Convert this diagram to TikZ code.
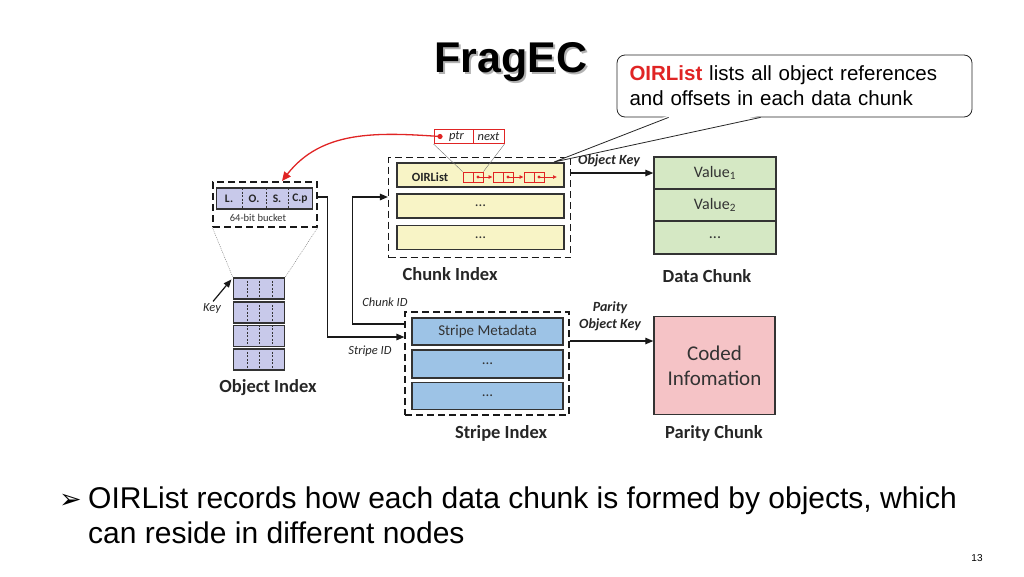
\documentclass[tikz,border=0pt]{standalone}
\usepackage{fontspec}
\setmainfont{Liberation Sans}
\newfontfamily\calib{Carlito}
\newfontfamily\djv{DejaVu Sans}
\usetikzlibrary{arrows.meta,calc}
\definecolor{rowyellow}{HTML}{F8F4C6}
\definecolor{rowgreen}{HTML}{D5E8C4}
\definecolor{rowpurple}{HTML}{C8C9EA}
\definecolor{rowblue}{HTML}{9DC3E6}
\definecolor{rowpink}{HTML}{F5C3C6}
\definecolor{rowborder}{HTML}{333333}
\definecolor{redline}{HTML}{E02424}
\begin{document}
\begin{tikzpicture}[x=1pt,y=-1pt,
  cellrow/.style={draw=rowborder, line width=1.4pt, inner sep=0pt, text=black!80, font=\calib\fontsize{15}{17}\selectfont},
  yelrow/.style={cellrow, fill=rowyellow, minimum width=167pt, minimum height=24pt},
  greenrow/.style={cellrow, fill=rowgreen, minimum width=122pt, font=\calib\fontsize{16}{18}\selectfont},
  purprow/.style={cellrow, fill=rowpurple, line width=1.2pt},
  bluerow/.style={cellrow, fill=rowblue, minimum width=151pt},
  dashbox/.style={draw=black!90, dash pattern=on 7pt off 4pt, line width=1.2pt, inner sep=0pt},
  lbl/.style={font=\calib\bfseries\fontsize{18.5}{20}\selectfont, text=black!85},
  ital/.style={font=\calib\itshape\fontsize{12.5}{14}\selectfont, text=black!85},
  bital/.style={font=\calib\bfseries\itshape\fontsize{14}{16}\selectfont, text=black!85, align=center},
  arr/.style={-{Triangle[length=8pt,width=6.5pt]}, line width=1.3pt, draw=black!90},
  sqbox/.style={draw=redline, line width=0.8pt, minimum size=10pt, inner sep=0pt},
  redarr/.style={draw=redline, line width=0.7pt, -{Latex[length=4pt,width=4pt]}},
  thinline/.style={draw=black!55, line width=0.4pt},
  divd/.style={draw=black!80, line width=0.6pt, dash pattern=on 2pt off 1.5pt}
]
\useasboundingbox (0,0) rectangle (1024,576);

% ---------- title ----------
\node[font=\bfseries\fontsize{43}{50}\selectfont, text=black!30] (titleshadow) at (513,64) {FragEC};
\node[font=\bfseries\fontsize{43}{50}\selectfont] (title) at (511,62) {FragEC};

% ---------- Chunk Index ----------
\node[dashbox, minimum width=182pt, minimum height=100pt] (cidx) at (479.5,207.5) {};
\node[yelrow] (ci1) at (480.5,175) {};
\node[yelrow] (ci2) at (480.5,206) {...};
\node[yelrow] (ci3) at (480.5,237.5) {...};
\node[font=\calib\bfseries\fontsize{12.5}{14}\selectfont, text=black!85] (oirtext) at (430,177) {OIRList};
\node[lbl] (cilbl) at (450,274) {Chunk Index};

% OIRList chain
\node[sqbox] (s1a) at (468,177) {};
\node[sqbox] (s1b) at (478,177) {};
\node[sqbox] (s2a) at (498,177) {};
\node[sqbox] (s2b) at (508,177) {};
\node[sqbox] (s3a) at (529,177) {};
\node[sqbox] (s3b) at (539,177) {};
\coordinate (chainend) at (557,177);
\fill[redline] (s1b.center) circle (1.6pt) (s2b.center) circle (1.6pt) (s3b.center) circle (1.6pt);
\draw[redarr] (s1b.center) -- (s2a.west);
\draw[redarr] (s2b.center) -- (s3a.west);
\draw[redarr] (s3b.center) -- (chainend);

% ptr / next
\node[draw=redline, line width=1pt, minimum width=39pt, minimum height=14pt, inner sep=0pt, font=\calib\itshape\fontsize{12.5}{14}\selectfont, text=black!85] (ptr) at (453.5,136.5) {\hspace{6pt}ptr};
\node[draw=redline, line width=1pt, minimum width=31pt, minimum height=14pt, inner sep=0pt, font=\calib\itshape\fontsize{12.5}{14}\selectfont, text=black!85] (nxt) at (488.5,136.5) {next};
\coordinate (ptrdot) at (440,136.5);
\fill[redline] (ptrdot) circle (2.6pt);
\draw[thinline] (ptr.south west) -- (s1a.north west);
\draw[thinline] (nxt.south east) -- (s1b.north east);

% ---------- Data Chunk ----------
\node[greenrow, minimum height=32pt] (dc1) at (715,173) {Value\textsubscript{1}};
\node[greenrow, minimum height=32pt] (dc2) at (715,205) {Value\textsubscript{2}};
\node[greenrow, minimum height=33pt] (dc3) at (715,237.5) {...};
\node[lbl] (dclbl) at (707,276) {Data Chunk};
\draw[arr] (cidx.east |- dc1.west) -- (dc1.west);
\node[bital] (okey) at (609,161) {Object Key};

% ---------- Object Index ----------
\node[dashbox, minimum width=104pt, minimum height=45pt] (bkt) at (265,204.5) {};
\node[purprow, minimum width=96pt, minimum height=21pt] (bkrow) at (264.5,198.5) {};
\draw[divd] (242,188) -- (242,209) (266,188) -- (266,209) (288,188) -- (288,209);
\node[font=\calib\bfseries\fontsize{11.5}{13}\selectfont, text=black!85] (fL) at (229,198.5) {L.};
\node[font=\calib\bfseries\fontsize{11.5}{13}\selectfont, text=black!85] (fO) at (254,198.5) {O.};
\node[font=\calib\bfseries\fontsize{11.5}{13}\selectfont, text=black!85] (fS) at (277,198.5) {S.};
\node[font=\calib\bfseries\fontsize{11.5}{13}\selectfont, text=black!85] (fC) at (300,198.5) {C.p};
\node[font=\calib\fontsize{10.5}{12}\selectfont, text=black!80] (bktlbl) at (258,218) {64-bit bucket};

\node[purprow, minimum width=51pt, minimum height=21pt] (oi1) at (259,288.5) {};
\node[purprow, minimum width=51pt, minimum height=21pt] (oi2) at (259,312.5) {};
\node[purprow, minimum width=51pt, minimum height=21pt] (oi3) at (259,336) {};
\node[purprow, minimum width=51pt, minimum height=21pt] (oi4) at (259,359.5) {};
\foreach \n in {oi1,oi2,oi3,oi4}{
  \draw[divd, line width=0.5pt] ($(\n.north west)+(14,0)$) -- ($(\n.south west)+(14,0)$);
  \draw[divd, line width=0.5pt] ($(\n.north west)+(26,0)$) -- ($(\n.south west)+(26,0)$);
  \draw[divd, line width=0.5pt] ($(\n.north west)+(39,0)$) -- ($(\n.south west)+(39,0)$);
}
\node[lbl] (oilbl) at (268,388) {Object Index};
\draw[thinline, dash pattern=on 1pt off 1pt] (bkt.south west) -- (oi1.north west);
\draw[thinline, dash pattern=on 1pt off 1pt] (bkt.south east) -- (oi1.north east);
\node[ital] (key) at (212,308) {Key};
\draw[arr, line width=1.2pt] ($(key.north)+(1,2)$) -- ($(oi1.north west)+(-1.5,2)$);

% red pointer arrow
\coordinate (bkttop) at (282,181);
\draw[draw=redline, line width=1.3pt, -{Triangle[length=9pt,width=8pt]}] (ptrdot) to[out=176,in=52] (bkttop);

% ---------- Stripe Index ----------
\node[dashbox, minimum width=164pt, minimum height=103pt] (sidx) at (487,363.5) {};
\node[bluerow, minimum height=27pt] (si1) at (487.5,331.5) {Stripe Metadata};
\node[bluerow, minimum height=28pt] (si2) at (487.5,364) {...};
\node[bluerow, minimum height=27pt] (si3) at (487.5,396) {...};
\node[lbl] (silbl) at (501,433) {Stripe Index};

% connectors object index -> stripe index, stripe -> chunk index
\draw[arr] ([yshift=7.5pt]bkt.east) -- ++(10,0) |- ([yshift=26.5pt]sidx.west);
\node[ital] (sidlbl) at (370,351) {Stripe ID};
\draw[arr] ([yshift=39.5pt]sidx.west) -- ++(-52,0) |- ([yshift=10.5pt]cidx.west);
\node[ital] (cidlbl) at (385,302) {Chunk ID};

% ---------- Parity Chunk ----------
\node[draw=rowborder, line width=1.4pt, fill=rowpink, minimum width=121pt, minimum height=98pt, align=center, font=\calib\fontsize{21}{25}\selectfont, text=black!80] (pc) at (714.5,365.5) {Coded\\Infomation};
\node[lbl] (pclbl) at (714,433) {Parity Chunk};
\draw[arr] ([yshift=22.5pt]sidx.east) -- ([yshift=24.5pt]pc.west);
\node[bital, font=\calib\bfseries\itshape\fontsize{14}{17}\selectfont] (pkey) at (610,316) {Parity\\Object Key};

% ---------- callout ----------
\node[draw=black!85, line width=0.8pt, rounded corners=8pt, fill=white, minimum width=355pt, minimum height=62pt, text width=330pt, align=left, inner sep=0pt, font=\fontsize{20.5}{25}\selectfont] (callout) at (794.5,86) {{\color{redline}\bfseries OIRList} lists all object references\\and offsets in each data chunk};
\coordinate (tailtip) at (554,162);
\fill[white] ($(callout.south west)+(52,-2)$) -- (tailtip) -- ($(callout.south west)+(144,-2)$) -- cycle;
\draw[black!85, line width=0.8pt] ($(callout.south west)+(52,0)$) -- (tailtip) -- ($(callout.south west)+(144,0)$);

% ---------- bullet ----------
\node[anchor=base west, inner sep=0pt, font=\djv\fontsize{27}{30}\selectfont] (bulsym) at (59,508) {➢};
\node[anchor=base west, inner sep=0pt, align=left, font=\fontsize{30}{35}\selectfont] (bul) at (88,543) {OIRList records how each data chunk is formed by objects, which\\can reside in different nodes};
\node[font=\fontsize{10}{12}\selectfont] (pg) at (977,558) {13};
\end{tikzpicture}
\end{document}
